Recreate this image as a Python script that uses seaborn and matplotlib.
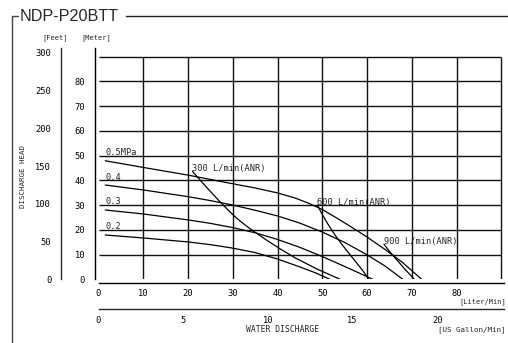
import numpy as np
import pandas as pd
import matplotlib
matplotlib.use("Agg")
import matplotlib.pyplot as plt
import seaborn as sns
from matplotlib.lines import Line2D

# ---------------- data ----------------
# pressure curves: x = water discharge [L/min], y = head [m]
p05_x = [1.5, 10, 20, 30, 35, 40, 44, 47, 50, 53, 56, 60, 64, 68, 72.2]
p05_y = [47.9, 45.2, 42.1, 38.6, 36.9, 34.9, 32.8, 30.7, 28.2, 25.0, 21.7, 17.1, 12.1, 6.7, 0]
p04_x = [1.5, 10, 20, 25, 30, 35, 40, 45, 50, 55, 60, 64, 68]
p04_y = [38.1, 36.1, 33.4, 31.8, 30.0, 27.9, 25.6, 22.7, 19.1, 14.9, 9.9, 5.4, 0]
p03_x = [1.5, 10, 20, 25, 30, 35, 40, 45, 50, 55, 61.3]
p03_y = [28.0, 26.4, 24.0, 22.6, 20.9, 18.8, 16.1, 12.9, 9.2, 5.2, 0]
p02_x = [1.5, 10, 20, 25, 30, 35, 40, 45, 48.5, 51.7]
p02_y = [17.9, 16.7, 15.1, 14.0, 12.6, 10.8, 8.2, 5.0, 2.6, 0]
# air consumption curves
a300_x = [21.0, 23, 25, 27, 29, 31, 33, 35, 37.5, 40.5, 44, 49, 54]
a300_y = [43.6, 39.5, 35.5, 31.6, 27.9, 24.5, 21.6, 19.0, 15.9, 12.4, 8.6, 4.0, 0]
a600_x = [48.9, 50, 51.2, 52.7, 54.3, 56, 57.7, 59.1, 60.4]
a600_y = [30.0, 26.2, 22.5, 18.3, 14.3, 10.4, 6.6, 3.4, 0]
a900_x = [63.8, 65.0, 66.5, 68.5, 70.6]
a900_y = [14.2, 11.3, 8.2, 4.0, 0]

pressure_labels = ["0.5MPa", "0.4", "0.3", "0.2"]
pressure_label_y = [50, 40, 30, 20]
air_labels = ["300 L/min(ANR)", "600 L/min(ANR)", "900 L/min(ANR)"]

meter_ticks = [0, 10, 20, 30, 40, 50, 60, 70, 80]
feet_ticks = [0, 50, 100, 150, 200, 250, 300]
liter_ticks = [0, 10, 20, 30, 40, 50, 60, 70, 80]
gallon_ticks = [0, 5, 10, 15, 20]
grid_vals = [10, 20, 30, 40, 50, 60, 70, 80, 90]

title = "NDP-P20BTT"

# ---------------- figure ----------------
sns.set_style("white")
plt.rcParams["font.family"] = ["DejaVu Sans Mono", "DejaVu Sans"]

FW, FH = 508, 343
fig = plt.figure(figsize=(FW / 100, FH / 100), dpi=100)


def fx(px):
    return px / FW


def fy(py):
    return 1 - py / FH


X0, Y0 = 98.5, 279.3
PX_X, PX_Y = 4.475, 2.475
XMAX, YMAX = 90.6, 93.5
L = fx(X0)
B = fy(Y0)
W = XMAX * PX_X / FW
H = YMAX * PX_Y / FH

ax = fig.add_axes([L, B, W, H])
ax.set_xlim(0, XMAX)
ax.set_ylim(0, YMAX)
ax.set_facecolor("none")

# grid
ax.hlines(grid_vals, 0, 90, color="#111111", lw=1.0, zorder=1)
ax.vlines(grid_vals, 0, 90, color="#111111", lw=1.0, zorder=1)

# curves
curves = [(p05_x, p05_y), (p04_x, p04_y), (p03_x, p03_y), (p02_x, p02_y),
          (a300_x, a300_y), (a600_x, a600_y), (a900_x, a900_y)]
for cx, cy in curves:
    df = pd.DataFrame({"x": cx, "y": cy})
    sns.lineplot(data=df, x="x", y="y", ax=ax, color="black", lw=0.9,
                 sort=False, estimator=None, zorder=3)

for lab, ly in zip(pressure_labels, pressure_label_y):
    ax.text(1.5, ly + 0.3, lab, fontsize=6.2, va="baseline", ha="left")
for lab, (cx, cy) in zip(air_labels, curves[4:]):
    ax.text(cx[0], cy[0], lab, fontsize=6.2, va="baseline", ha="left")

ax.set_xlabel("")
ax.set_ylabel("")
for s in ["top", "right"]:
    ax.spines[s].set_visible(False)
for s in ["left", "bottom"]:
    ax.spines[s].set_position(("outward", 2.7))
    ax.spines[s].set_color("black")
    ax.spines[s].set_linewidth(1.0)
ax.set_yticks(meter_ticks)
ax.set_xticks(liter_ticks)
ax.tick_params(axis="y", direction="out", length=5, width=0.9, pad=2,
               labelsize=6.3, colors="black")
ax.tick_params(axis="x", direction="out", length=2.5, width=0.9, pad=1.5,
               labelsize=6.3, colors="black")

# feet axis
axf = fig.add_axes([L, B, W, H], facecolor="none")
axf.set_ylim(0, YMAX * 3.28084)
axf.set_xlim(0, XMAX)
axf.set_xticks([])
for s in ["top", "right", "bottom"]:
    axf.spines[s].set_visible(False)
axf.spines["left"].set_position(("axes", (61 - X0) / (XMAX * PX_X)))
axf.spines["left"].set_linewidth(1.0)
axf.set_yticks(feet_ticks)
axf.tick_params(axis="y", direction="out", length=3.6, width=0.9, pad=3.5,
                labelsize=6.3, colors="black")

# gallon axis
axg = fig.add_axes([L, B, W, H], facecolor="none")
axg.set_xlim(0, XMAX / 3.78541)
axg.set_ylim(0, YMAX)
axg.set_yticks([])
for s in ["top", "right", "left"]:
    axg.spines[s].set_visible(False)
axg.spines["bottom"].set_position(("outward", 30 / 1.389))
axg.spines["bottom"].set_linewidth(1.0)
axg.set_xticks(gallon_ticks)
axg.tick_params(axis="x", direction="out", length=2.5, width=0.9, pad=2.5,
                labelsize=6.3, colors="black")

# axis texts
fig.text(fx(55), fy(38), "[Feet]", fontsize=5, ha="center", va="center")
fig.text(fx(96), fy(38), "[Meter]", fontsize=5, ha="center", va="center")
fig.text(fx(23), fy(177), "DISCHARGE HEAD", fontsize=5.4, rotation=90,
         ha="center", va="center")
fig.text(fx(506), fy(301.5), "[Liter/Min]", fontsize=5, ha="right", va="center")
fig.text(fx(506), fy(330), "[US Gallon/Min]", fontsize=5.4, ha="right", va="center")
fig.text(fx(283), fy(330), "WATER DISCHARGE", fontsize=5.8, ha="center", va="center")

# title and group frame
fig.text(fx(20), fy(16.5), title, family="Liberation Sans", fontsize=11.6,
         ha="left", va="center")
fig.add_artist(Line2D([fx(12), fx(12), fx(18)], [0, fy(16), fy(16)],
                      transform=fig.transFigure, color="#444444", lw=1.0))
fig.add_artist(Line2D([fx(126), fx(508)], [fy(16), fy(16)],
                      transform=fig.transFigure, color="#222222", lw=1.0))

fig.savefig("out.png", dpi=100)
